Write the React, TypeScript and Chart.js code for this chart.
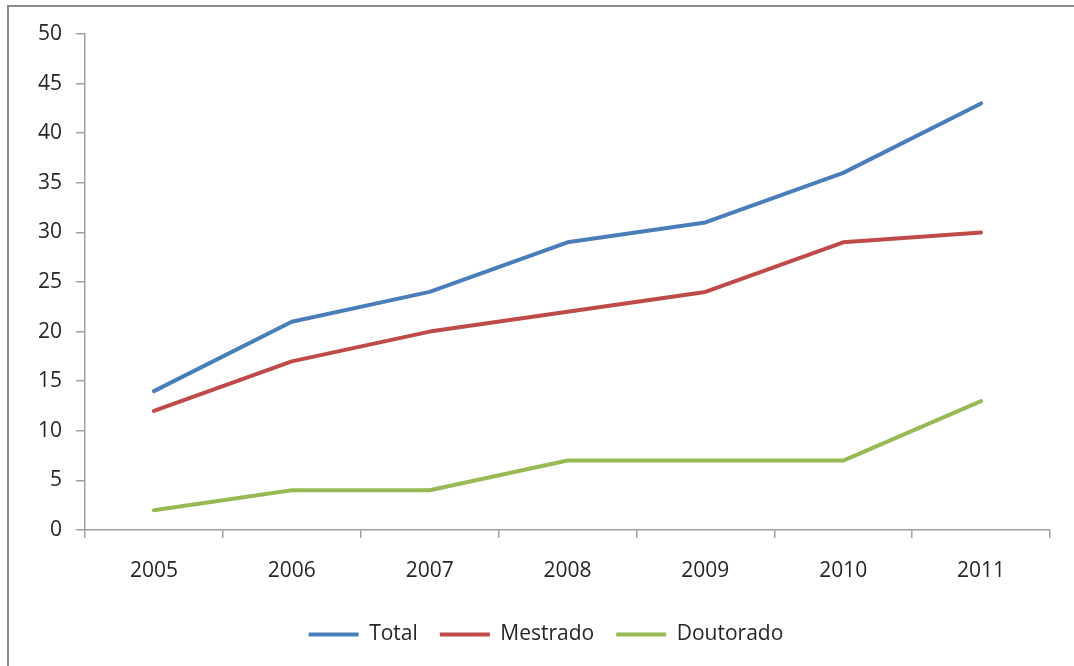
import React, { useEffect, useRef } from "react";
import { Chart, registerables } from "chart.js";

Chart.register(...registerables);

const categories = ["2005", "2006", "2007", "2008", "2009", "2010", "2011"];
const totalValues = [14, 21, 24, 29, 31, 36, 43];
const mestradoValues = [12, 17, 20, 22, 24, 29, 30];
const doutoradoValues = [2, 4, 4, 7, 7, 7, 13];
const seriesNames = ["Total", "Mestrado", "Doutorado"];
const seriesColors = ["#4A7EBB", "#BE4B48", "#98B954"];

const FONT = "'Open Sans', 'Noto Sans', sans-serif";
const TEXT = "#262626";
const AXIS = "#a0a0a0";

const legendShift = {
  id: "legendShift",
  afterLayout(chart: any) {
    const lg = chart.legend;
    if (lg) {
      lg.left += 16;
      lg.right += 16;
    }
  },
};

export default function App() {
  const ref = useRef<HTMLCanvasElement | null>(null);

  useEffect(() => {
    if (!ref.current) return;
    const data = [totalValues, mestradoValues, doutoradoValues];
    const chart = new Chart(ref.current, {
      type: "line",
      data: {
        labels: categories,
        datasets: data.map((vals, i) => ({
          label: seriesNames[i],
          data: vals,
          borderColor: seriesColors[i],
          backgroundColor: seriesColors[i],
          borderWidth: 4,
          pointRadius: 0,
          tension: 0,
          borderCapStyle: "round" as const,
          borderJoinStyle: "round" as const,
        })),
      },
      plugins: [legendShift],
      options: {
        animation: false,
        responsive: false,
        devicePixelRatio: 1,
        layout: { padding: { top: 34, right: 24, left: 10, bottom: 11 } },
        plugins: {
          tooltip: { enabled: false },
          legend: {
            position: "bottom",
            labels: {
              usePointStyle: true,
              pointStyle: "line",
              pointStyleWidth: 50,
              padding: 22,
              color: TEXT,
              font: { family: FONT, size: 21 },
            },
          },
        },
        scales: {
          x: {
            offset: true,
            grid: {
              offset: true,
              drawOnChartArea: false,
              drawTicks: true,
              tickLength: 8,
              color: AXIS,
              lineWidth: 1.5,
            },
            border: { color: AXIS, width: 1.5 },
            ticks: {
              color: TEXT,
              padding: 20,
              font: { family: FONT, size: 21 },
              maxRotation: 0,
            },
            afterFit: (scale: any) => {
              scale.height = 72;
            },
          },
          y: {
            min: 0,
            max: 50,
            grid: {
              drawOnChartArea: false,
              tickLength: 9,
              color: AXIS,
              lineWidth: 1.5,
            },
            border: { color: AXIS, width: 1.5 },
            ticks: {
              stepSize: 5,
              color: TEXT,
              padding: 14,
              font: { family: FONT, size: 21 },
            },
            afterFit: (scale: any) => {
              scale.width = 75;
            },
          },
        },
      } as any,
    });
    return () => chart.destroy();
  }, []);

  return (
    <div
      style={{
        position: "fixed",
        left: 0,
        top: 0,
        width: 1074,
        height: 666,
        background: "#ffffff",
        overflow: "hidden",
      }}
    >
      <div
        style={{
          position: "absolute",
          left: 7,
          top: 5,
          width: 1100,
          height: 700,
          borderTop: "2px solid #8c8c8c",
          borderLeft: "2px solid #8c8c8c",
        }}
      />
      <canvas
        ref={ref}
        width={1074}
        height={666}
        style={{ position: "absolute", left: 0, top: 0, width: 1074, height: 666 }}
      />
    </div>
  );
}
